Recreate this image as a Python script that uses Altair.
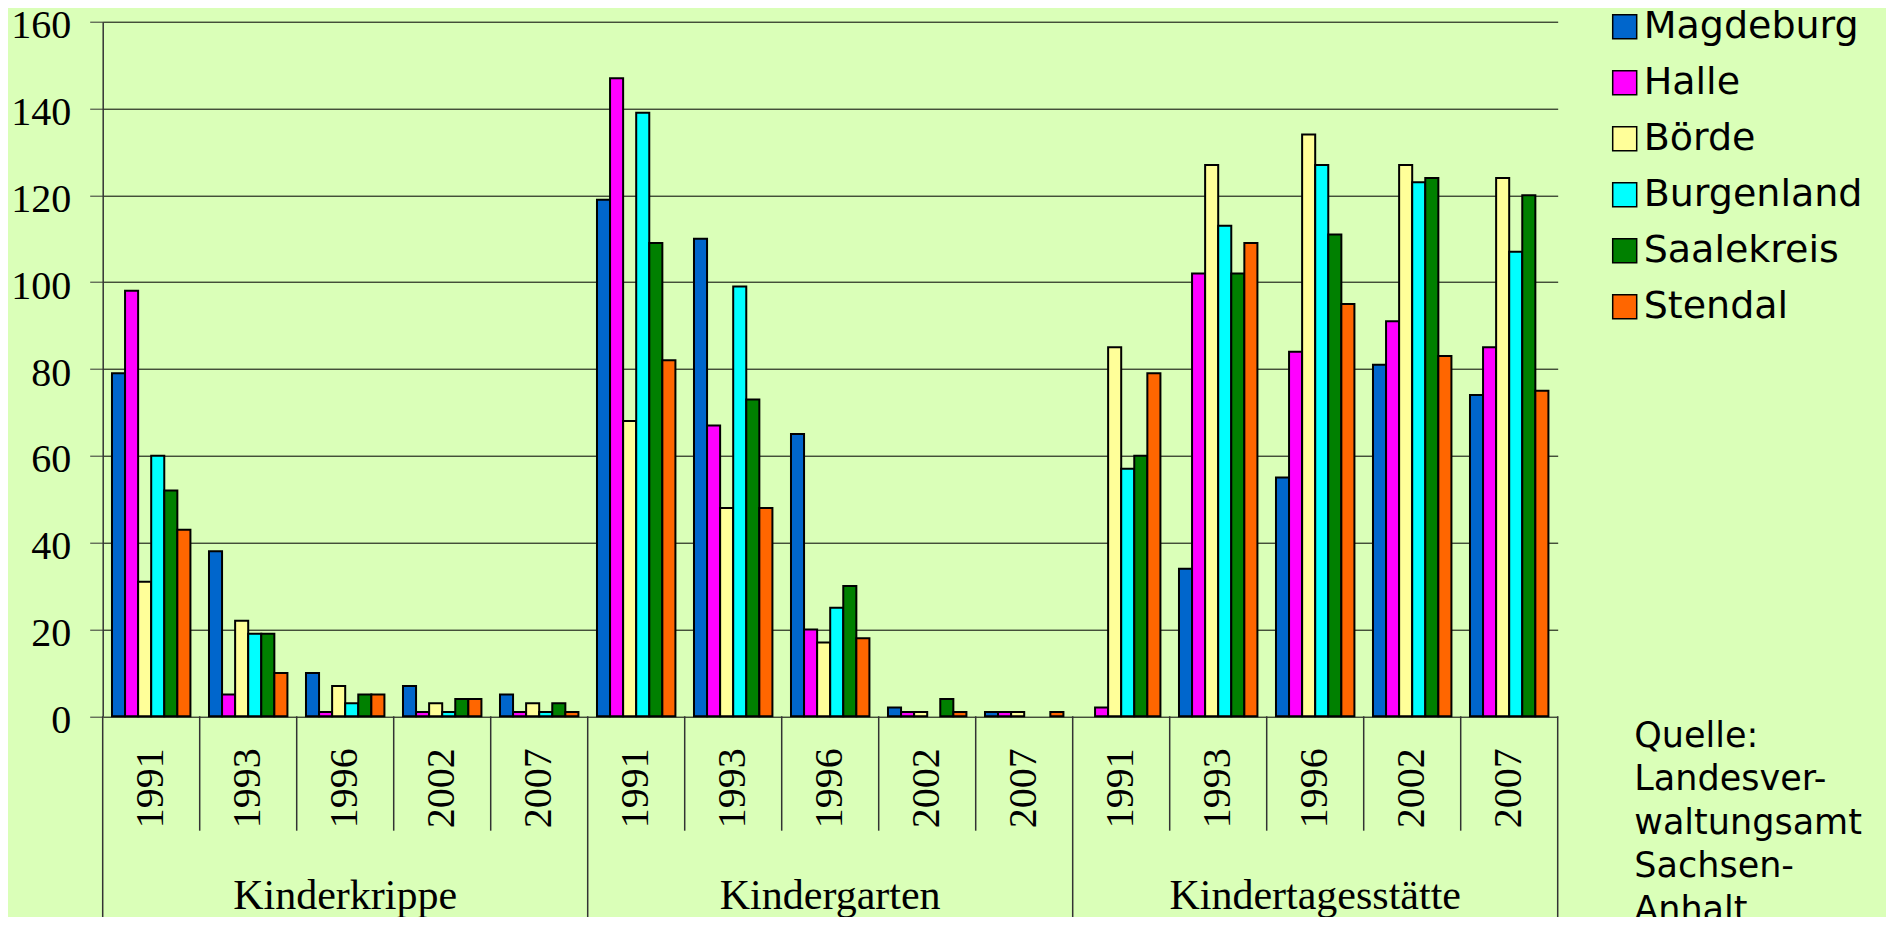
import altair as alt
import pandas as pd

categories = ["Kinderkrippe", "Kindergarten", "Kindertagesstätte"]
years = ["1991", "1993", "1996", "2002", "2007"]
series = ["Magdeburg", "Halle", "Börde", "Burgenland", "Saalekreis", "Stendal"]
colors = ["#0066CC", "#FF00FF", "#FFFF99", "#00FFFF", "#008000", "#FF6600"]

# values: Kinderkrippe 1991..2007, Kindergarten 1991..2007, Kindertagesstätte 1991..2007
magdeburg = [79, 38, 10, 7, 5, 119, 110, 65, 2, 1, 0, 34, 55, 81, 74]
halle = [98, 5, 1, 1, 1, 147, 67, 20, 1, 1, 2, 102, 84, 91, 85]
boerde = [31, 22, 7, 3, 3, 68, 48, 17, 1, 1, 85, 127, 134, 127, 124]
burgenland = [60, 19, 3, 1, 1, 139, 99, 25, 0, 0, 57, 113, 127, 123, 107]
saalekreis = [52, 19, 5, 4, 3, 109, 73, 30, 4, 0, 60, 102, 111, 124, 120]
stendal = [43, 10, 5, 4, 1, 82, 48, 18, 1, 1, 79, 109, 95, 83, 75]
y_ticks = [0, 20, 40, 60, 80, 100, 120, 140, 160]
quelle_lines = ["Quelle:", "Landesver-", "waltungsamt", "Sachsen-", "Anhalt"]

all_values = [magdeburg, halle, boerde, burgenland, saalekreis, stendal]
keys = [f"{c}|{y}" for c in categories for y in years]

rows = []
for s, vals in zip(series, all_values):
    for k, v in zip(keys, vals):
        rows.append({"key": k, "series": s, "value": v})
df = pd.DataFrame(rows)

bounds = pd.DataFrame([
    {"key": f"{c}|{y}", "year": y, "level": "group" if y == years[0] else "year"}
    for c in categories for y in years
])
end_bound = pd.DataFrame([{"key": keys[-1]}])
cat_df = pd.DataFrame([{"key": f"{c}|{years[2]}", "label": c} for c in categories])
quelle_df = pd.DataFrame([{"text": "\n".join(quelle_lines)}])

W = 1455
H = 694.6
BG = "#DAFFB8"

xscale = alt.Scale(domain=keys, paddingInner=0, paddingOuter=0)

bars = alt.Chart(df).transform_filter("datum.value > 0").mark_bar(
    stroke="black", strokeWidth=2
).encode(
    x=alt.X("key:N", sort=keys, scale=xscale, axis=None),
    xOffset=alt.XOffset("series:N", sort=series,
                        scale=alt.Scale(paddingOuter=0.71, paddingInner=0)),
    y=alt.Y("value:Q", scale=alt.Scale(domain=[0, 160], nice=False),
            axis=alt.Axis(
                title=None, values=y_ticks, grid=True, gridColor="black",
                gridWidth=1, domainColor="#333333", domainWidth=1.5,
                tickColor="#333333", tickSize=13, tickWidth=1,
                labelFont="Liberation Serif", labelFontSize=40,
                labelColor="black", labelPadding=19, labelOffset=4,
            )),
    color=alt.Color("series:N", sort=series,
                    scale=alt.Scale(domain=series, range=colors),
                    legend=alt.Legend(
                        title=None, orient="none", legendX=1503, legendY=-14,
                        symbolType="square", symbolSize=576,
                        symbolStrokeColor="black", symbolStrokeWidth=1.5,
                        symbolOpacity=1,
                        labelFont="DejaVu Sans", labelFontSize=38,
                        labelColor="black", labelOffset=0, rowPadding=18,
                        labelLimit=400, padding=0,
                    )),
)

short_rules = alt.Chart(bounds).transform_filter("datum.level == 'year'").mark_rule(
    color="#333333", strokeWidth=1.5
).encode(
    x=alt.X("key:N", sort=keys, scale=xscale, bandPosition=0, axis=None),
    y=alt.value(H),
    y2=alt.value(H + 114.4),
)

long_rules = alt.Chart(bounds).transform_filter("datum.level == 'group'").mark_rule(
    color="#333333", strokeWidth=1.5
).encode(
    x=alt.X("key:N", sort=keys, scale=xscale, bandPosition=0, axis=None),
    y=alt.value(H),
    y2=alt.value(H + 300),
)

end_rule = alt.Chart(end_bound).mark_rule(color="#333333", strokeWidth=1.5).encode(
    x=alt.X("key:N", sort=keys, scale=xscale, bandPosition=1, axis=None),
    y=alt.value(H),
    y2=alt.value(H + 300),
)

year_text = alt.Chart(bounds).mark_text(
    font="Liberation Serif", fontSize=40, angle=270, align="right",
    baseline="middle", color="black"
).encode(
    x=alt.X("key:N", sort=keys, scale=xscale, axis=None),
    y=alt.value(H + 32),
    text="year:N",
)

cat_text = alt.Chart(cat_df).mark_text(
    font="Liberation Serif", fontSize=42, baseline="alphabetic", align="center",
    color="black"
).encode(
    x=alt.X("key:N", sort=keys, scale=xscale, axis=None),
    y=alt.value(887.6),
    text="label:N",
)

quelle = alt.Chart(quelle_df).mark_text(
    font="DejaVu Sans", fontSize=35, baseline="alphabetic", align="left",
    lineBreak="\n", lineHeight=43.5, color="black"
).encode(
    x=alt.value(1531.6),
    y=alt.value(725),
    text="text:N",
)

chart = alt.layer(bars, short_rules, long_rules, end_rule, year_text, cat_text, quelle).properties(
    width=W,
    height=H,
    autosize=alt.AutoSizeParams(type="none"),
    padding={"left": 94.7, "top": 13.7, "right": 328.3, "bottom": 200.7},
    background=BG,
).configure_view(stroke=None, fill=BG)

chart.save("out.html", embed_options={"renderer": "svg", "actions": False})
